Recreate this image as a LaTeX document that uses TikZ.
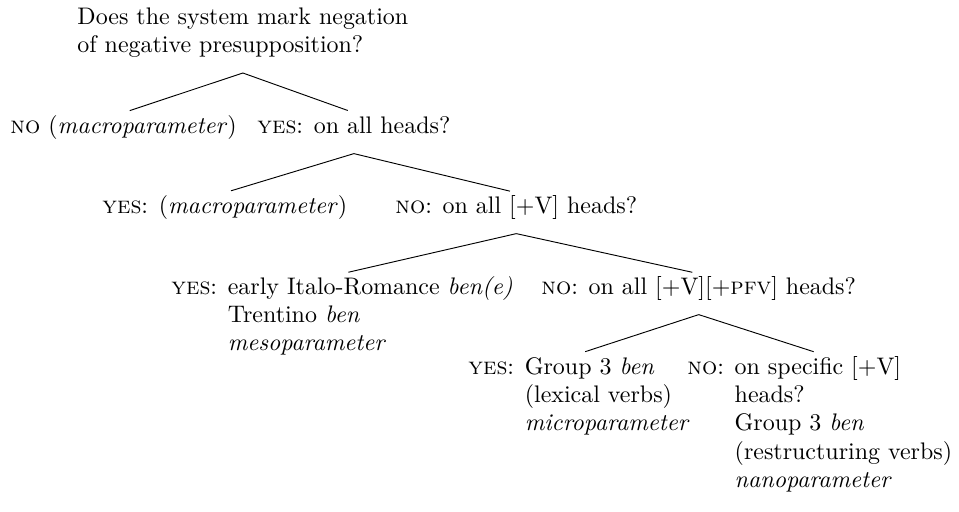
\documentclass[tikz,border=0pt]{standalone}
\usepackage{amsmath}

% one block of text, lines left aligned
\newcommand{\treeq}[1]{\begin{tabular}[t]{@{}l@{}}#1\end{tabular}}
% answer with hanging lines after the label
\newcommand{\treeans}[2]{\begin{tabular}[t]{@{}l@{ }l@{}}#1: & #2\end{tabular}}

\begin{document}
\begin{tikzpicture}[x=0.43pt, y=-0.43pt,
  every node/.style={anchor=base west, inner sep=0pt, font=\fontsize{10.3}{12.2}\selectfont},
  branch/.style={shorten >=2.8pt}]
\useasboundingbox (0,0) rectangle (959,511);

% Root question
\node (root) at (77,24) {\treeq{Does the system mark negation\\ of negative presupposition?}};

% First split
\node (noA)  at (10,133)  {\treeq{\textsc{no} (\textit{macroparameter})}};
\node (yesA) at (257,133) {\treeans{\textsc{yes}}{on all heads?}};

% Second split
\node (yesB) at (102,213) {\treeans{\textsc{yes}}{(\textit{macroparameter})}};
\node (noB)  at (395,213) {\treeans{\textsc{no}}{on all [+V] heads?}};

% Third split
\node (yesC) at (171,294) {\treeans{\textsc{yes}}{early Italo-Romance \textit{ben(e)}\\ & Trentino \textit{ben}\\ & \textit{mesoparameter}}};
\node (noC)  at (541,294) {\treeans{\textsc{no}}{on all [+V][+\textsc{pfv}] heads?}};

% Fourth split
\node (yesD) at (468,374) {\treeans{\textsc{yes}}{Group 3 \textit{ben}\\ & (lexical verbs)\\ & \textit{microparameter}}};
\node (noD)  at (687,374) {\treeans{\textsc{no}}{on specific [+V]\\ & heads?\\ & Group 3 \textit{ben}\\ & (restructuring verbs)\\ & \textit{nanoparameter}}};

% Branches, meeting below each mother
\draw[branch] ([yshift=-5pt]root.south) -- (noA.north);
\draw[branch] ([yshift=-5pt]root.south) -- (yesA.north);
\draw[branch] ([yshift=-5pt]yesA.south) -- (yesB.north);
\draw[branch] ([yshift=-5pt]yesA.south) -- (noB.north);
\draw[branch] ([yshift=-5pt]noB.south) -- (yesC.north);
\draw[branch] ([yshift=-5pt]noB.south) -- (noC.north);
\draw[branch] ([yshift=-5pt]noC.south) -- (yesD.north);
\draw[branch] ([yshift=-5pt]noC.south) -- (noD.north);

\end{tikzpicture}
\end{document}
